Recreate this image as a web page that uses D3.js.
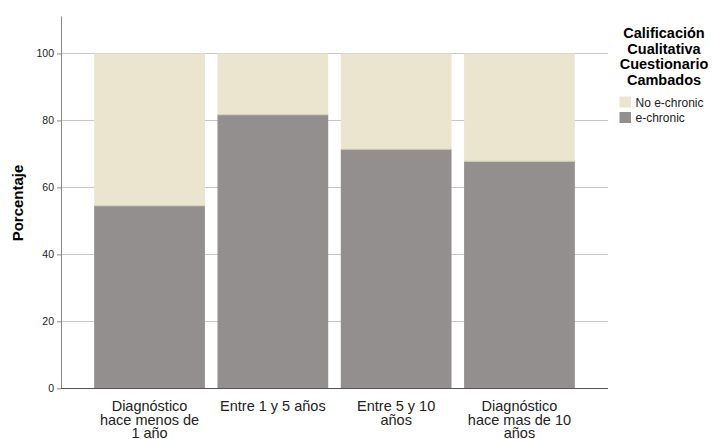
<!DOCTYPE html>
<html><head><meta charset="utf-8">
<script src="https://cdn.jsdelivr.net/npm/d3@7"></script>
<style>body{margin:0;background:#fff}svg{display:block;font-family:Arial,"Liberation Sans",sans-serif}</style>
</head><body><svg id="c" width="712" height="439"></svg>
<script>
const categories = [["Diagnóstico","hace menos de","1 año"],["Entre 1 y 5 años"],["Entre 5 y 10","años"],["Diagnóstico","hace mas de 10","años"]];
const echronic = [54.5, 81.7, 71.4, 67.8];
const noEchronic = [45.5, 18.3, 28.6, 32.2];
const seriesNames = ["No e-chronic","e-chronic"];
const seriesColors = ["#ebe5d0","#938f8e"];
const yTicks = [0,20,40,60,80,100];
const legendTitle = ["Calificación","Cualitativa","Cuestionario","Cambados"];

const svg = d3.select("#c");
const x = d3.scaleBand().domain(d3.range(categories.length)).range([61,608]).paddingInner(0.102).paddingOuter(0.269);
const y = d3.scaleLinear().domain([0,110.5]).range([388.3,18.3]);

// gridlines
svg.append("g").selectAll("line").data(yTicks.filter(d=>d>0)).join("line")
  .attr("x1",61).attr("x2",608).attr("y1",d=>Math.round(y(d))+0.5).attr("y2",d=>Math.round(y(d))+0.5)
  .attr("stroke","#c8c8c8").attr("stroke-width",1);

const data = categories.map((c,i)=>({i, e:echronic[i], n:noEchronic[i]}));
const g = svg.append("g");
g.selectAll("rect.e").data(data).join("rect").attr("class","e")
  .attr("x",d=>x(d.i)).attr("width",x.bandwidth())
  .attr("y",d=>y(d.e)).attr("height",d=>y(0)-y(d.e)).attr("fill",seriesColors[1]);
g.selectAll("rect.n").data(data).join("rect").attr("class","n")
  .attr("x",d=>x(d.i)).attr("width",x.bandwidth())
  .attr("y",d=>y(d.e+d.n)).attr("height",d=>y(d.e)-y(d.e+d.n)).attr("fill",seriesColors[0]);
g.selectAll("line.sep").data(data).join("line").attr("class","sep")
  .attr("x1",d=>x(d.i)).attr("x2",d=>x(d.i)+x.bandwidth())
  .attr("y1",d=>y(d.e)).attr("y2",d=>y(d.e)).attr("stroke","#cfcabb").attr("stroke-width",1);

// y axis
const yAxis = d3.axisLeft(y).tickValues(yTicks).tickSize(4).tickSizeOuter(0);
const ya = svg.append("g").attr("transform","translate(61,0)").call(yAxis);
ya.select(".domain").attr("stroke","#888").attr("d","M0.5,16.5V388.5");
ya.selectAll(".tick line").attr("stroke","#888");
ya.selectAll(".tick text").attr("font-size","10.5px").attr("fill","#222").attr("font-family","Arial, Liberation Sans, sans-serif");

// x axis
const xAxis = d3.axisBottom(x).tickSize(0).tickFormat("");
const xa = svg.append("g").attr("transform","translate(0,388.5)").call(xAxis);
xa.select(".domain").attr("stroke","#555").attr("d","M61,0H608");
xa.selectAll(".tick").each(function(d){
  const t = d3.select(this).append("text").attr("text-anchor","middle").attr("fill","#222")
    .attr("font-size","14.5px").attr("font-family","Arial, Liberation Sans, sans-serif");
  categories[d].forEach((line,k)=>t.append("tspan").attr("x",0).attr("y",22.5+k*13.5).text(line));
});

// y title
svg.append("text").attr("transform","translate(22.5,203) rotate(-90)").attr("text-anchor","middle")
  .attr("font-size","15px").attr("font-weight","bold").attr("fill","#000").text("Porcentaje");

// legend
const lg = svg.append("g");
lg.selectAll("text.t").data(legendTitle).join("text").attr("class","t")
  .attr("x",664).attr("y",(d,i)=>38+i*15.5).attr("text-anchor","middle")
  .attr("font-size","14.5px").attr("font-weight","bold").attr("fill","#000").text(d=>d);
const items = lg.selectAll("g.it").data(seriesNames).join("g").attr("class","it")
  .attr("transform",(d,i)=>`translate(619.5,${96.5+i*15.5})`);
items.append("rect").attr("width",11.5).attr("height",11).attr("fill",(d,i)=>seriesColors[i]);
items.append("text").attr("x",16).attr("y",10).attr("font-size","12px").attr("fill","#222").text(d=>d);
</script></body></html>
